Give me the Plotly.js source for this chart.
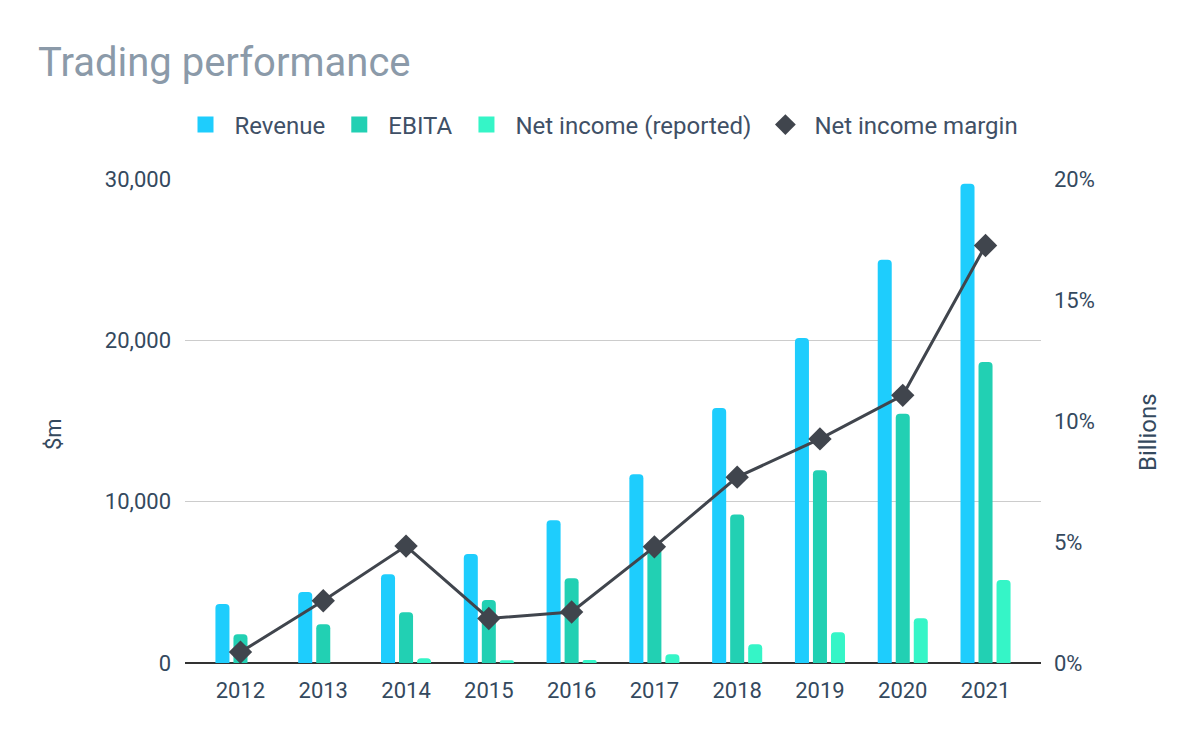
<!DOCTYPE html>
<html>
<head>
<meta charset="utf-8">
<script src="https://cdn.plot.ly/plotly-3.0.1.min.js"></script>
<style>html,body{margin:0;padding:0;background:#fff;}#chart{width:1200px;height:742px;}</style>
</head>
<body>
<div id="chart"></div>
<script>
const years = ['2012','2013','2014','2015','2016','2017','2018','2019','2020','2021'];
const revenue = [3650, 4400, 5500, 6750, 8850, 11700, 15800, 20150, 25000, 29700];
const ebita = [1780, 2400, 3150, 3900, 5250, 7100, 9200, 11950, 15450, 18650];
const netIncome = [0, 0, 290, 170, 180, 540, 1160, 1900, 2780, 5140];
const margin = [0.0045, 0.0257, 0.0483, 0.0184, 0.0211, 0.048, 0.0768, 0.0926, 0.1106, 0.1725];

const cRev = '#1ecdfd', cEb = '#22d0b3', cNet = '#35f5c7', cLine = '#40454d';
const tickFont = {family: 'Roboto', size: 22, color: '#34495e'};

const traces = [
  {type: 'bar', name: 'Revenue', x: years, y: revenue, marker: {color: cRev}, showlegend: false},
  {type: 'bar', name: 'EBITA', x: years, y: ebita, marker: {color: cEb}, showlegend: false},
  {type: 'bar', name: 'Net income (reported)', x: years, y: netIncome, marker: {color: cNet}, showlegend: false},
  {type: 'scatter', mode: 'lines+markers', name: 'Net income margin', x: years, y: margin, yaxis: 'y2',
   line: {color: cLine, width: 3}, marker: {symbol: 'diamond', size: 18, color: cLine}, showlegend: false},
  // legend entries
  {type: 'scatter', mode: 'markers', name: 'Revenue', x: [null], y: [null], marker: {symbol: 'square', size: 16, color: cRev}},
  {type: 'scatter', mode: 'markers', name: 'EBITA', x: [null], y: [null], marker: {symbol: 'square', size: 16, color: cEb}},
  {type: 'scatter', mode: 'markers', name: 'Net income (reported)', x: [null], y: [null], marker: {symbol: 'square', size: 16, color: cNet}},
  {type: 'scatter', mode: 'markers', name: 'Net income margin', x: [null], y: [null], marker: {symbol: 'diamond', size: 16, color: cLine}}
];

const layout = {
  width: 1200, height: 742,
  margin: {l: 185, r: 159, t: 179, b: 79},
  paper_bgcolor: '#fff', plot_bgcolor: '#fff',
  font: {family: 'Roboto', color: '#34495e'},
  title: {text: 'Trading performance', font: {family: 'Roboto', size: 40, color: '#8b9aa9'},
          xref: 'container', yref: 'container', x: 38/1200, xanchor: 'left', y: 1 - 62/742, yanchor: 'middle'},
  barmode: 'group', bargap: 0.347, bargroupgap: 0.222, barcornerradius: 4,
  showlegend: true,
  legend: {orientation: 'h', xref: 'container', yref: 'container', x: 0.5, xanchor: 'center', y: 1 - 125/742, yanchor: 'middle',
           font: {family: 'Roboto', size: 24, color: '#3f5066'}, itemwidth: 48},
  xaxis: {type: 'category', range: [-0.67, 9.67], showgrid: false, showline: false, zeroline: false,
          tickfont: tickFont, ticks: '', ticklabelstandoff: 12, fixedrange: true},
  yaxis: {range: [0, 30000], tickvals: [0, 10000, 20000, 30000], tickformat: ',d', tickfont: tickFont,
          showgrid: true, gridcolor: '#cccccc', gridwidth: 1.5, zeroline: true, zerolinecolor: '#333333', zerolinewidth: 2,
          showline: false, ticklabelstandoff: 13},
  yaxis2: {range: [0, 0.2], overlaying: 'y', side: 'right', tickvals: [0, 0.05, 0.1, 0.15, 0.2], tickformat: '.0%',
           tickfont: tickFont, showgrid: false, zeroline: false, showline: false, ticklabelstandoff: 12},
  annotations: [
    {text: '$m', xref: 'paper', yref: 'paper', x: (53 - 185) / 856, y: (663 - 434) / 484, xanchor: 'center', yanchor: 'middle',
     textangle: -90, showarrow: false, font: {family: 'Roboto', size: 22, color: '#34495e'}},
    {text: 'Billions', xref: 'paper', yref: 'paper', x: (1148 - 185) / 856, y: (663 - 432) / 484, xanchor: 'center', yanchor: 'middle',
     textangle: -90, showarrow: false, font: {family: 'Roboto', size: 24, color: '#34495e'}}
  ]
};

Plotly.newPlot('chart', traces, layout, {displayModeBar: false, staticPlot: true});
</script>
</body>
</html>
